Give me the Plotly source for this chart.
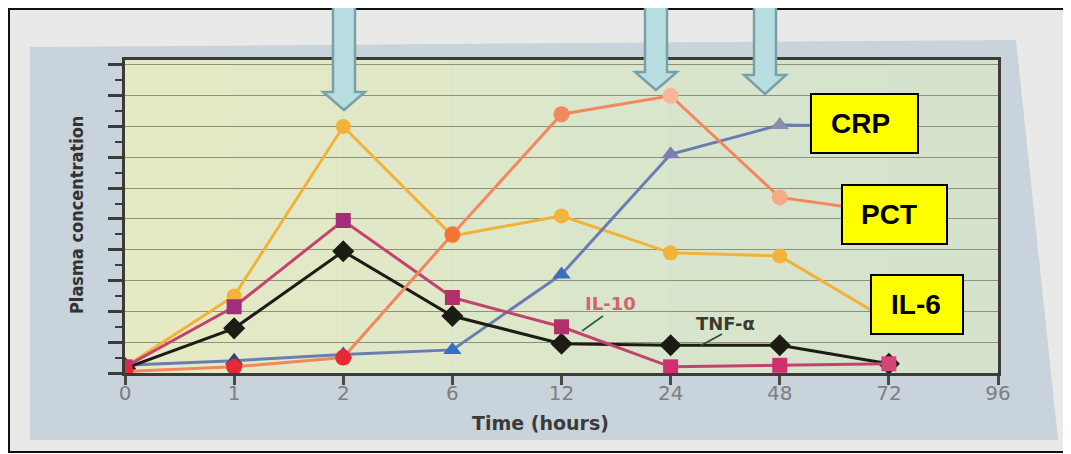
import plotly.graph_objects as go

# ---- data ----
time_labels = ["0", "1", "2", "6", "12", "24", "48", "72", "96"]
time_idx = [0, 1, 2, 3, 4, 5, 6, 7]          # positions of the measured time points 0..72
il6 = [0.2, 2.5, 8.0, 4.45, 5.1, 3.9, 3.8, 1.7]
pct = [0.05, 0.2, 0.5, 4.5, 8.4, 9.0, 5.7, 5.2]
crp = [0.25, 0.4, 0.6, 0.75, 3.2, 7.1, 8.05, 8.0]
il10 = [0.2, 2.15, 4.95, 2.45, 1.5, 0.2, 0.25, 0.3]
tnf = [0.15, 1.45, 3.95, 1.85, 0.95, 0.9, 0.9, 0.3]

OFF = 8                      # page body margin
W, H = 1071 - OFF, 454 - OFF
# plot area in screen pixels
SL, SR, ST, SB = 125, 998, 60, 373
L, R, T, B = SL - OFF, SR - OFF, ST - OFF, SB - OFF


def px(x):
    return (x - SL) / (SR - SL)


def py(y):
    return (SB - y) / (SB - ST)


fig = go.Figure()

fig.add_trace(go.Scatter(x=time_idx, y=il6, mode="lines+markers", name="IL-6",
                         line=dict(color="#F2B23A", width=3),
                         marker=dict(symbol="circle", size=15, color="#F3B23A")))
fig.add_trace(go.Scatter(x=time_idx, y=crp, mode="lines+markers", name="CRP",
                         line=dict(color="#6A7DB3", width=3),
                         marker=dict(symbol="triangle-up", size=16,
                                     color=["#2E3F80", "#2E3F80", "#3A5AA0", "#2F6FC4", "#3D6CBB",
                                            "#7F7DB2", "#8E8CAA", "#8E8CAA"])))
fig.add_trace(go.Scatter(x=time_idx, y=tnf, mode="lines+markers", name="TNF-α",
                         line=dict(color="#1C1C14", width=3),
                         marker=dict(symbol="diamond", size=17, color="#1C1C14")))
fig.add_trace(go.Scatter(x=time_idx, y=il10, mode="lines+markers", name="IL-10",
                         line=dict(color="#C3436E", width=3),
                         marker=dict(symbol="square", size=15,
                                     color=["#C0306A", "#A32C7C", "#A32C7C", "#B0306A", "#B0306A",
                                            "#D0306E", "#D0306E", "#D44678"])))
fig.add_trace(go.Scatter(x=time_idx, y=pct, mode="lines+markers", name="PCT",
                         line=dict(color="#F3865C", width=3),
                         marker=dict(symbol="circle", size=16,
                                     color=["#E52A36", "#E52A36", "#E52A36", "#F27436", "#F08A5C",
                                            "#F8B798", "#F6AA88", "#F6AA88"])))

shapes = []
# image frame
shapes.append(dict(type="rect", xref="paper", yref="paper", layer="below",
                   x0=px(9), x1=px(1068), y0=py(452), y1=py(9),
                   line=dict(color="#111111", width=2), fillcolor="#E9E9E7"))
# blue-gray printed panel
shapes.append(dict(type="path", xref="paper", yref="paper", layer="below",
                   path="M {} {} L {} {} L {} {} L {} {} Z".format(
                       px(30), py(47), px(1016), py(40), px(1058), py(440), px(30), py(440)),
                   line=dict(width=0), fillcolor="#C9D3DC"))
# plot-area colour wash (left yellowish, right greenish)
grad = ["#E6EAC4", "#E3E9C6", "#E0E8C8", "#DDE7CA", "#DAE6CB", "#D8E5CC", "#D6E4CD", "#D5E3CE"]
for i, c in enumerate(grad):
    shapes.append(dict(type="rect", xref="paper", yref="paper", layer="below",
                       x0=i / len(grad), x1=(i + 1) / len(grad), y0=0, y1=1,
                       line=dict(width=0), fillcolor=c))
# leader lines for IL-10 and TNF-α labels
shapes.append(dict(type="line", xref="paper", yref="paper", x0=px(603), y0=py(316),
                   x1=px(582), y1=py(331), line=dict(color="#2F5F45", width=1.8)))
shapes.append(dict(type="line", xref="paper", yref="paper", x0=px(722), y0=py(334),
                   x1=px(700), y1=py(346), line=dict(color="#2F4F35", width=1.8)))


def down_arrow(cx, head_y, tip_y, half_shaft=11, half_head=21):
    p = "M {} {} L {} {} L {} {} L {} {} L {} {} L {} {} L {} {} Z".format(
        px(cx - half_shaft), py(0), px(cx - half_shaft), py(head_y),
        px(cx - half_head), py(head_y), px(cx), py(tip_y),
        px(cx + half_head), py(head_y), px(cx + half_shaft), py(head_y),
        px(cx + half_shaft), py(0))
    return dict(type="path", xref="paper", yref="paper", path=p, layer="above",
                fillcolor="#B9DEE2", line=dict(color="#7B9FA6", width=2.5))


shapes.append(down_arrow(344, 92, 110))
shapes.append(down_arrow(656, 72, 90))
shapes.append(down_arrow(765, 75, 94))

# yellow label boxes
boxes = [("CRP", 811, 94, 918, 153, 860), ("PCT", 842, 185, 947, 244, 889),
         ("IL-6", 871, 275, 963, 334, 916)]
annotations = []
for txt, x0, y0, x1, y1, tx in boxes:
    shapes.append(dict(type="rect", xref="paper", yref="paper", layer="above",
                       x0=px(x0), x1=px(x1), y0=py(y1), y1=py(y0),
                       fillcolor="#FFFF00", line=dict(color="#000000", width=2)))
    annotations.append(dict(text="<b>" + txt + "</b>", xref="paper", yref="paper",
                            x=px(tx), y=py((y0 + y1) / 2), showarrow=False,
                            xanchor="center", yanchor="middle",
                            font=dict(family="Liberation Sans", size=28, color="#000000")))

annotations += [
    dict(text="<b>IL-10</b>", x=px(610), y=py(303),
         font=dict(family="DejaVu Sans", size=18, color="#D0646E")),
    dict(text="<b>TNF-α</b>", x=px(725), y=py(323),
         font=dict(family="DejaVu Sans", size=18, color="#3A3A30")),
    dict(text="<b>Time (hours)</b>", x=px(540), y=py(423),
         font=dict(family="DejaVu Sans", size=19, color="#3A3A3A")),
    dict(text="<b>Plasma concentration</b>", x=px(76), y=py(215), textangle=-90,
         font=dict(family="DejaVu Sans Condensed", size=18, color="#333333")),
]
for a in annotations[3:]:
    a.update(xref="paper", yref="paper", showarrow=False, xanchor="center", yanchor="middle")

fig.update_layout(
    width=W, height=H,
    margin=dict(l=L, r=W - R, t=T, b=H - B),
    paper_bgcolor="rgba(0,0,0,0)",
    plot_bgcolor="rgba(0,0,0,0)",
    showlegend=False,
    shapes=shapes,
    annotations=annotations,
    xaxis=dict(range=[0, 8], tickmode="array", tickvals=list(range(len(time_labels))),
               ticktext=time_labels, ticks="outside", ticklen=9, tickwidth=2.5, tickcolor="#4A4A44",
               ticklabelstandoff=-9,
               showgrid=False, zeroline=False, showline=True, linecolor="#3C3C36", linewidth=2.5,
               mirror=True,
               tickfont=dict(family="DejaVu Sans", size=20, color="#7E7E7E")),
    yaxis=dict(range=[0, 10.16], dtick=1, showticklabels=False, ticks="outside", ticklen=14,
               tickwidth=2.5, tickcolor="#3C3C36",
               minor=dict(dtick=0.5, ticks="outside", ticklen=7, tickwidth=2, tickcolor="#3C3C36",
                          showgrid=False),
               showgrid=True, gridcolor="#8C9276", gridwidth=1, zeroline=False,
               showline=True, linecolor="#3C3C36", linewidth=2.5, mirror=True),
)

fig.write_html("out.html")
